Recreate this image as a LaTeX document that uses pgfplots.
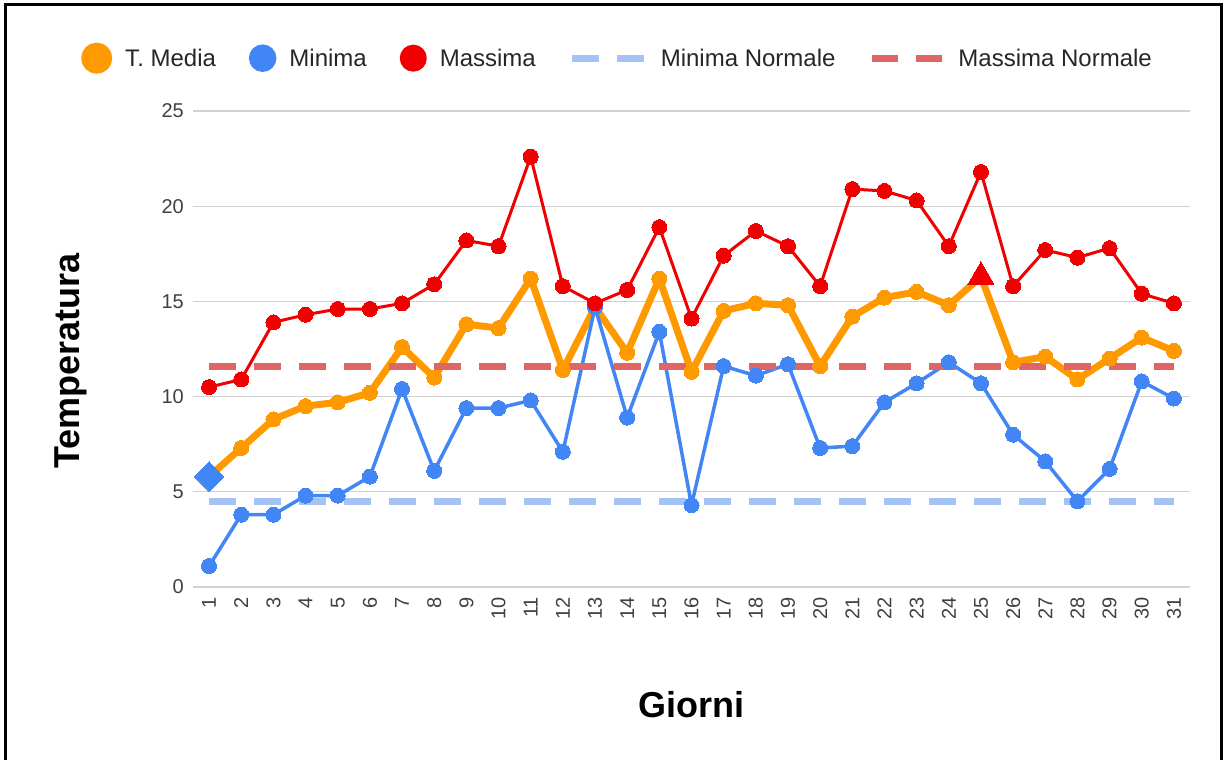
\documentclass[border=0pt]{standalone}
\usepackage{pgfplots}
\usepackage{pgfplotstable}
\pgfplotsset{compat=1.18}
\usepackage{fontspec}
\setmainfont{Liberation Sans}
\definecolor{cmed}{HTML}{FF9900}
\definecolor{cmin}{HTML}{4285F4}
\definecolor{cmax}{HTML}{F00000}
\definecolor{cminn}{HTML}{A4C2F4}
\definecolor{cmaxn}{HTML}{E06666}
\pgfplotstableread{
g med min max
1 5.8 1.1 10.5
2 7.3 3.8 10.9
3 8.8 3.8 13.9
4 9.5 4.8 14.3
5 9.7 4.8 14.6
6 10.2 5.8 14.6
7 12.6 10.4 14.9
8 11.0 6.1 15.9
9 13.8 9.4 18.2
10 13.6 9.4 17.9
11 16.2 9.8 22.6
12 11.4 7.1 15.8
13 14.7 14.7 14.9
14 12.3 8.9 15.6
15 16.2 13.4 18.9
16 11.3 4.3 14.1
17 14.5 11.6 17.4
18 14.9 11.1 18.7
19 14.8 11.7 17.9
20 11.6 7.3 15.8
21 14.2 7.4 20.9
22 15.2 9.7 20.8
23 15.5 10.7 20.3
24 14.8 11.8 17.9
25 16.3 10.7 21.8
26 11.8 8.0 15.8
27 12.1 6.6 17.7
28 10.9 4.5 17.3
29 12.0 6.2 17.8
30 13.1 10.8 15.4
31 12.4 9.9 14.9
}\datatable
\begin{document}
\begin{tikzpicture}[x=1pt,y=1pt]
\path[use as bounding box] (0,0) rectangle (1226,-760);
\draw[line width=3pt] (5,-760) -- (5,-4.5) -- (1221.5,-4.5) -- (1221.5,-760);
\begin{axis}[
  at={(193pt,-587pt)}, anchor=south west,
  scale only axis, width=997pt, height=476pt,
  xmin=0.5, xmax=31.5, ymin=0, ymax=25,
  axis x line*=bottom, axis y line*=left,
  axis line style={draw=none},
  xtick={1,...,31}, ytick={5,10,...,25},
  extra y ticks={0},
  extra y tick style={grid style={color=black!75, line width=1.6pt}},
  ymajorgrids, major grid style={color=black!18, line width=1.2pt},
  major tick length=0pt, tick style={draw=none},
  /pgf/number format/assume math mode=true,
  yticklabel style={font=\fontsize{20}{24}\selectfont, color=black!75, inner sep=0pt},
  yticklabel shift={9pt},
  xticklabel style={font=\fontsize{20}{24}\selectfont, color=black!75, inner sep=0pt, rotate=90, anchor=east},
  xticklabel shift={10pt},
  xlabel={Giorni}, ylabel={Temperatura},
  label style={font=\fontsize{36}{42}\selectfont\bfseries, color=black},
  xlabel style={at={(axis description cs:0.5,-0.248)}, anchor=center},
  ylabel style={at={(axis description cs:-0.1225,0.475)}, anchor=center},
  legend columns=5,
  legend style={draw=none, fill=none, at={(axis description cs:-0.1123,1.111)}, anchor=west,
    font=\fontsize{24}{28}\selectfont, text=black!85, inner sep=0pt,
    nodes={inner sep=0pt},
    /tikz/every odd column/.append style={column sep=13pt},
    /tikz/every even column/.append style={column sep=33pt}},
  legend cell align=left,
  clip=false,
]
\addplot[cmed, line width=7pt, line join=round, mark=none,
  legend image code/.code={\fill[cmed] (12pt,0pt) circle[radius=12pt];}]
  table[x=g, y=med]{\datatable};
\addlegendentry{T. Media}
\addplot[cmin, line width=3.5pt, line join=round, mark=none,
  legend image code/.code={\fill[cmin] (12pt,0pt) circle[radius=12pt];}]
  table[x=g, y=min]{\datatable};
\addlegendentry{Minima}
\addplot[cmax, line width=3pt, line join=round, mark=none,
  legend image code/.code={\fill[cmax] (12pt,0pt) circle[radius=12pt];}]
  table[x=g, y=max]{\datatable};
\addlegendentry{Massima}
\addplot[cminn, line width=7pt, dash pattern=on 27pt off 18pt, mark=none,
  legend image code/.code={\draw[cminn, line width=7pt] (0pt,0pt) -- (28pt,0pt) (45pt,0pt) -- (72pt,0pt);}]
  coordinates {(1,4.5) (31,4.5)};
\addlegendentry{Minima Normale}
\addplot[cmaxn, line width=7pt, dash pattern=on 27pt off 18pt, mark=none,
  legend image code/.code={\draw[cmaxn, line width=7pt] (0pt,0pt) -- (26pt,0pt) (44pt,0pt) -- (70pt,0pt);}]
  coordinates {(1,11.6) (31,11.6)};
\addlegendentry{Massima Normale}
% markers on top
\addplot[cmed, forget plot, only marks, mark=*, mark size=7.5pt, mark options={draw=cmed, fill=cmed, line width=0pt}]
  table[x=g, y=med]{\datatable};
\addplot[cmin, forget plot, only marks, mark=*, mark size=7.5pt, mark options={draw=cmin, fill=cmin, line width=0pt}]
  table[x=g, y=min]{\datatable};
\addplot[cmax, forget plot, only marks, mark=*, mark size=7.5pt, mark options={draw=cmax, fill=cmax, line width=0pt}]
  table[x=g, y=max]{\datatable};
\addplot[cmin, forget plot, only marks, mark=square*, mark size=10.5pt, mark options={draw=cmin, fill=cmin, rotate=45, line width=0pt}]
  coordinates {(1,5.8)};
\addplot[cmax, forget plot, only marks, mark=triangle*, mark size=15pt, mark options={draw=cmax, fill=cmax, line width=0pt}]
  coordinates {(25,16.3)};
\end{axis}
\end{tikzpicture}
\end{document}
